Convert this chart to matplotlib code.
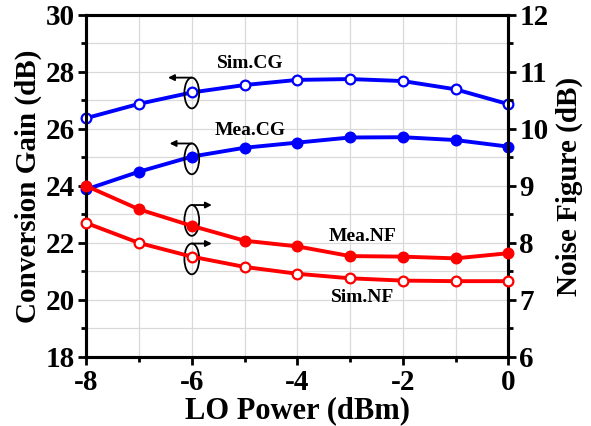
import matplotlib

matplotlib.use("Agg")
import matplotlib.pyplot as plt
from matplotlib.patches import Ellipse
from matplotlib.ticker import MultipleLocator

# LO power sweep (dBm)
LO_POWER = [-8, -7, -6, -5, -4, -3, -2, -1, 0]
# conversion gain, left axis (dB)
SIM_CG = [26.38, 26.88, 27.28, 27.54, 27.72, 27.75, 27.68, 27.39, 26.87]
MEA_CG = [23.88, 24.50, 25.03, 25.34, 25.52, 25.70, 25.71, 25.61, 25.38]
# noise figure, right axis (dB)
MEA_NF = [9.00, 8.59, 8.30, 8.04, 7.94, 7.77, 7.76, 7.73, 7.82]
SIM_NF = [8.35, 8.00, 7.76, 7.58, 7.46, 7.38, 7.34, 7.33, 7.33]

BLUE = "#0000ff"
RED = "#ff0000"

plt.rcParams["font.family"] = ["Liberation Serif", "DejaVu Serif"]
plt.rcParams["font.weight"] = "bold"
plt.rcParams["axes.unicode_minus"] = False

fig = plt.figure(figsize=(5.91, 4.26), dpi=100)
ax = fig.add_axes([0.146, 0.162, 0.714, 0.803])
ax2 = ax.twinx()

line_kw = dict(linewidth=2.8, markersize=7, markeredgewidth=1.6)
ax.plot(LO_POWER, SIM_CG, "-o", color=BLUE, markerfacecolor="white", markeredgecolor=BLUE, clip_on=False, zorder=3, **line_kw)
ax.plot(LO_POWER, MEA_CG, "-o", color=BLUE, clip_on=False, zorder=3, **line_kw)
ax2.plot(LO_POWER, MEA_NF, "-o", color=RED, clip_on=False, zorder=3, **line_kw)
ax2.plot(LO_POWER, SIM_NF, "-o", color=RED, markerfacecolor="white", markeredgecolor=RED, clip_on=False, zorder=3, **line_kw)

ax.set_xlim(-8, 0)
ax.set_ylim(18, 30)
ax2.set_ylim(6, 12)
ax.xaxis.set_major_locator(MultipleLocator(2))
ax.xaxis.set_minor_locator(MultipleLocator(1))
ax.yaxis.set_major_locator(MultipleLocator(2))
ax.yaxis.set_minor_locator(MultipleLocator(1))
ax2.yaxis.set_major_locator(MultipleLocator(1))
ax2.yaxis.set_minor_locator(MultipleLocator(0.5))

ax.grid(True, which="both", color="#d9d9d9", linewidth=0.9)
ax.set_axisbelow(True)

for a in (ax, ax2):
    for s in a.spines.values():
        s.set_linewidth(2.2)
    a.tick_params(which="major", direction="out", length=6, width=2, labelsize=21)
    a.tick_params(which="minor", direction="out", length=3.5, width=2)
ax.tick_params(top=False, which="both")
ax.tick_params(axis="x", pad=3)
ax.tick_params(axis="y", pad=2)
ax2.tick_params(axis="y", pad=2)

ax.set_xlabel("LO Power (dBm)", fontsize=22, fontweight="bold", labelpad=0)
ax.set_ylabel("Conversion Gain (dB)", fontsize=21, fontweight="bold", labelpad=3)
ax2.set_ylabel("Noise Figure (dB)", fontsize=21, fontweight="bold", labelpad=5)

# curve labels
txt_kw = dict(fontsize=14, fontweight="bold", ha="center", va="center")
ax.text(-4.9, 28.28, "Sim.CG", **txt_kw)
ax.text(-4.9, 25.96, "Mea.CG", **txt_kw)
ax.text(-2.77, 22.21, "Mea.NF", **txt_kw)
ax.text(-2.77, 20.07, "Sim.NF", **txt_kw)

# ellipses with axis arrows
for (cx, cy, dx) in [(-6.0, 27.26, -0.45), (-6.0, 24.95, -0.42), (-6.0, 22.79, 0.38), (-6.0, 21.44, 0.38)]:
    h = 1.08
    ax.add_patch(Ellipse((cx, cy), 0.28, h, fill=False, edgecolor="black", linewidth=1.3, zorder=4))
    y_arrow = cy + h / 2
    ax.annotate("", xy=(cx + dx, y_arrow), xytext=(cx, y_arrow),
                arrowprops=dict(arrowstyle="-|>", color="black", lw=1.3, mutation_scale=9,
                                shrinkA=0, shrinkB=0), zorder=4)

fig.savefig("out.png", dpi=100)
